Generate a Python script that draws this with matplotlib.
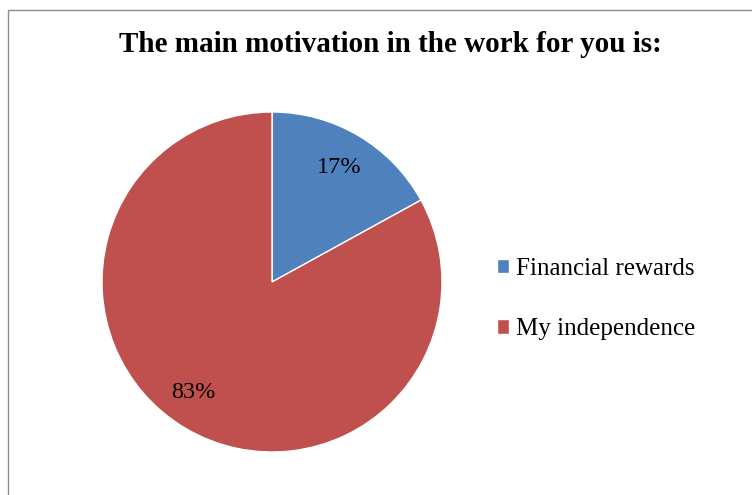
import matplotlib.pyplot as plt
from matplotlib.patches import Rectangle

# survey answers
labels = ["Financial rewards", "My independence"]
shares = [17, 83]
colors = ["#4F81BD", "#C0504D"]

W, H = 752, 495
fig = plt.figure(figsize=(W / 100, H / 100), dpi=100)

# chart frame, runs off the right and bottom edges
fig.patches.append(Rectangle((8 / W, -0.1), 1.2, (H - 10) / H + 0.1,
                             transform=fig.transFigure, fill=False,
                             edgecolor="#8c8c8c", linewidth=1.0))

serif = ["Liberation Serif", "DejaVu Serif"]

fig.text(390 / W, 1 - 44 / H, "The main motivation in the work for you is:",
         ha="center", va="center", fontsize=21, fontweight="bold", family=serif)

# pie centred at (272, 282) px with radius 170 px
cx, cy, r = 272, 282, 170
ax = fig.add_axes([(cx - r) / W, (H - cy - r) / H, 2 * r / W, 2 * r / H])
wedges, texts, autotexts = ax.pie(
    shares, colors=colors, startangle=90, counterclock=False,
    autopct="%d%%", pctdistance=0.78, radius=1,
    wedgeprops=dict(edgecolor="white", linewidth=1.0),
    textprops=dict(fontsize=17.5, family=serif, color="black"))
# big slice label sits a little further left
x, y = autotexts[1].get_position()
autotexts[1].set_position((x - 0.065, y + 0.02))
ax.set_xlim(-1, 1)
ax.set_ylim(-1, 1)
ax.set_aspect("equal")
ax.axis("off")

leg = fig.legend(wedges, labels, loc="center left",
                 bbox_to_anchor=(474 / W, 1 - 299 / H),
                 frameon=False, prop=dict(family=serif, size=18),
                 handlelength=0.5, handleheight=0.5, handletextpad=0.3,
                 labelspacing=1.55)

fig.savefig("out.png", dpi=100)
